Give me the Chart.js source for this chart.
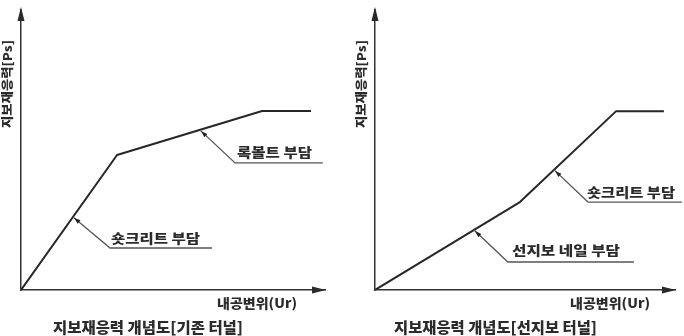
<!DOCTYPE html>
<html><head><meta charset="utf-8">
<script src="https://cdn.jsdelivr.net/npm/chart.js@4.4.1/dist/chart.umd.min.js"></script>
<style>
html,body{margin:0;padding:0;background:#fff;}
#wrap{position:relative;width:684px;height:336px;background:#fff;}
.p{position:absolute;top:0;width:342px;height:336px;}
</style></head><body>
<div id="wrap">
<div class="p" style="left:0"><canvas id="c1" width="342" height="336"></canvas></div>
<div class="p" style="left:342px"><canvas id="c2" width="342" height="336"></canvas></div>
</div>
<script>
// ---- data (axis units 0..100) ----
const leftX = [0, 31.6, 79.3, 95.4];
const leftY = [0, 48.2, 63.9, 63.9];
const rightX = [0, 48.3, 80.3, 96.3];
const rightY = [0, 31.4, 63.8, 63.8];
const yAxisLabel = '지보재응력[Ps]';
const xAxisLabel = '내공변위(Ur)';
const captions = ['지보재응력 개념도[기존 터널]', '지보재응력 개념도[선지보 터널]'];
const leftNotes = ['숏크리트 부담', '록볼트 부담'];
const rightNotes = ['선지보 네일 부담', '숏크리트 부담'];
// leader lines (tip on curve, elbow, end) in axis units
const leftLeaderX = [[17.1, 29.3, 62.8], [58.9, 70.4, 99.3]];
const leftLeaderY = [[26.1, 15.0, 15.0], [57.1, 45.4, 45.4]];
const rightLeaderX = [[33.0, 44.3, 86.3], [59.7, 71.0, 102.3]];
const rightLeaderY = [[21.4, 10.0, 10.0], [42.9, 31.4, 31.4]];

const FONT = '"Noto Sans CJK KR", "Noto Sans", sans-serif';
function stretchText(ctx, text, left, cy, width, size) {
  ctx.font = `900 ${size}px ${FONT}`;
  const w = ctx.measureText(text).width;
  ctx.save();
  ctx.translate(left, cy);
  ctx.scale(width / w, 1);
  ctx.textBaseline = 'middle';
  ctx.textAlign = 'left';
  ctx.fillText(text, 0, 0);
  ctx.restore();
}

function panelPlugin(cfg) {
  return {
    id: 'panelDeco',
    afterDraw(chart) {
      const {ctx, chartArea: a, scales: {x, y}} = chart;
      ctx.save();
      // axis arrowheads
      ctx.fillStyle = '#2a2a2a';
      ctx.beginPath();
      ctx.moveTo(a.left, a.top - 3);
      ctx.lineTo(a.left - 3.5, a.top + 11);
      ctx.lineTo(a.left + 3.5, a.top + 11);
      ctx.closePath(); ctx.fill();
      ctx.beginPath();
      ctx.moveTo(a.right + 1, a.bottom);
      ctx.lineTo(a.right - 13, a.bottom - 3.5);
      ctx.lineTo(a.right - 13, a.bottom + 3.5);
      ctx.closePath(); ctx.fill();
      // leader lines
      cfg.leaderX.forEach((lx, i) => {
        const ly = cfg.leaderY[i];
        const pts = lx.map((v, j) => [x.getPixelForValue(v), y.getPixelForValue(ly[j])]);
        ctx.strokeStyle = '#555';
        ctx.lineWidth = 1.3;
        ctx.beginPath();
        pts.forEach((p, j) => j ? ctx.lineTo(p[0], p[1]) : ctx.moveTo(p[0], p[1]));
        ctx.stroke();
        // small arrowhead at tip
        const dx = pts[1][0] - pts[0][0], dy = pts[1][1] - pts[0][1];
        const L = Math.hypot(dx, dy), ux = dx / L, uy = dy / L;
        const bx = pts[0][0] + ux * 8, by = pts[0][1] + uy * 8;
        ctx.fillStyle = '#222';
        ctx.beginPath();
        ctx.moveTo(pts[0][0] + ux * 1.5, pts[0][1] + uy * 1.5);
        ctx.lineTo(bx - uy * 2.2, by + ux * 2.2);
        ctx.lineTo(bx + uy * 2.2, by - ux * 2.2);
        ctx.closePath(); ctx.fill();
      });
      // texts
      ctx.fillStyle = '#2b2b2b';
      cfg.notes.forEach((t, i) => {
        const n = cfg.notePos[i];
        stretchText(ctx, t, n[0], n[1], n[2], 13);
      });
      stretchText(ctx, xAxisLabel, cfg.xLab[0], cfg.xLab[1], cfg.xLab[2], 13);
      stretchText(ctx, cfg.caption, cfg.cap[0], cfg.cap[1], cfg.cap[2], 15);
      ctx.save();
      ctx.translate(cfg.yLab[0], cfg.yLab[1]);
      ctx.rotate(-Math.PI / 2);
      stretchText(ctx, yAxisLabel, 0, 0, cfg.yLab[2], 12);
      ctx.restore();
      ctx.restore();
    }
  };
}

function makeChart(id, xs, ys, padding, cfg) {
  const axis = {
    type: 'linear', min: 0, max: 100,
    ticks: {display: false},
    grid: {display: false, drawTicks: false},
    border: {display: true, color: '#333', width: 1.5},
    title: {display: false}
  };
  return new Chart(document.getElementById(id), {
    type: 'scatter',
    data: {datasets: [{
      data: xs.map((v, i) => ({x: v, y: ys[i]})),
      showLine: true, borderColor: '#262626', borderWidth: 2,
      pointRadius: 0, fill: false, tension: 0, borderJoinStyle: 'round'
    }]},
    options: {
      responsive: false, animation: false, devicePixelRatio: 1,
      layout: {padding},
      scales: {x: {...axis, position: 'bottom'}, y: {...axis, position: 'left'}},
      plugins: {legend: {display: false}, tooltip: {enabled: false}}
    },
    plugins: [panelPlugin(cfg)]
  });
}

makeChart('c1', leftX, leftY, {left: 21, right: 17, top: 10, bottom: 46}, {
  leaderX: leftLeaderX, leaderY: leftLeaderY, notes: leftNotes,
  notePos: [[111, 238, 89], [237, 152, 75]],
  xLab: [217, 303, 80], cap: [53, 327, 190], caption: captions[0],
  yLab: [7, 128, 88]
});
makeChart('c2', rightX, rightY, {left: 33, right: 9, top: 10, bottom: 46}, {
  leaderX: rightLeaderX, leaderY: rightLeaderY, notes: rightNotes,
  notePos: [[170, 250, 108], [245, 192, 88]],
  xLab: [228, 303, 80], cap: [52, 327, 203], caption: captions[1],
  yLab: [19, 128, 88]
});
</script>
</body></html>
